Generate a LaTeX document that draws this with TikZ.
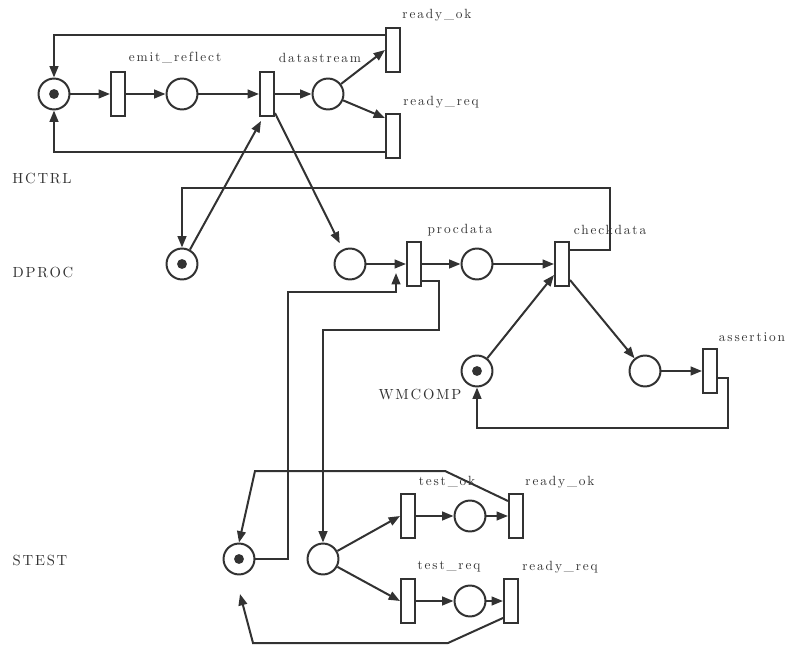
\documentclass[tikz,border=0pt]{standalone}
\usepackage{fontspec}
\usetikzlibrary{arrows.meta,calc}
\newfontfamily\capsfont{lmroman10-regular}[Extension=.otf,LetterSpace=12]
\newfontfamily\lowfont{lmroman10-regular}[Extension=.otf,LetterSpace=14,Ligatures=CommonOff]
\definecolor{ink}{RGB}{50,50,50}
\begin{document}
\begin{tikzpicture}[x=0.75pt,y=-0.75pt,line width=1.5pt,draw=ink,text=ink,
  place/.style={circle,draw=ink,minimum size=23.2pt,inner sep=0pt},
  marked/.style={place,path picture={\fill[ink] (path picture bounding box.center) circle (3.7pt);}},
  trans/.style={rectangle,draw=ink,minimum width=10.5pt,minimum height=33pt,inner sep=0pt},
  arr/.style={draw=ink,-{Triangle[length=8.5pt,width=6.5pt]}},
  caps/.style={font=\capsfont\fontsize{11}{13}\selectfont,inner sep=0pt},
  lab/.style={font=\lowfont\fontsize{10}{12}\selectfont,inner sep=0pt}
]
\useasboundingbox (0,0) rectangle (789,645);

% ---------- HCTRL ----------
\node[marked] (h1) at (54,94) {};
\node[trans] (ht1) at (118,94) {};
\node[place] (h2) at (182,94) {};
\node[trans] (ht2) at (267,94) {};
\node[place] (h3) at (328,94) {};
\node[trans] (hok) at (393,50) {};
\node[trans] (hreq) at (393,136) {};
\node[lab] (l1) at (175,58) {emit\_reflect};
\node[lab] (l2) at (320,58) {datastream};
\node[lab] (l3) at (437,15) {ready\_ok};
\node[lab] (l4) at (441,102) {ready\_req};
\node[caps] (lh) at (42,178) {HCTRL};

\draw[arr] (h1) -- (ht1);
\draw[arr] (ht1) -- (h2);
\draw[arr] (h2) -- (ht2);
\draw[arr] (ht2) -- (h3);
\draw[arr] (h3) -- (hok.west);
\draw[arr] (h3) -- ($(hreq.north west)+(0,5)$);
\draw[arr] ($(hok.north west)+(0,8)$) -| (h1.north);
\draw[arr] ($(hreq.south west)+(0,-7)$) -| (h1.south);

% ---------- DPROC ----------
\node[marked] (d1) at (182,264) {};
\node[place] (d2) at (350,264) {};
\node[trans] (dt1) at (414,264) {};
\node[place] (d3) at (477,264) {};
\node[trans] (dt2) at (562,264) {};
\node[lab] (l5) at (460,230) {procdata};
\node[lab] (l6) at (610,230) {checkdata};
\node[caps] (ld) at (43,272) {DPROC};

\draw[arr] (d1) -- ($(ht2.south west)+(2,4)$);
\draw[arr,shorten >=5pt] ($(ht2.south east)+(0,-4)$) -- (d2);
\draw[arr] (d2) -- (dt1);
\draw[arr] (dt1) -- (d3);
\draw[arr] (d3) -- (dt2);
\coordinate (dloop) at (610,188);
\draw[arr] ($(dt2.north east)+(0,9)$) -| (dloop) -| (d1.north);

% ---------- WMCOMP ----------
\node[marked] (w1) at (477,371) {};
\node[place] (w2) at (645,371) {};
\node[trans] (wt) at (710,371) {};
\node[lab] (l7) at (752,337) {assertion};
\node[caps] (lw) at (420,394) {WMCOMP};

\draw[arr] (w1) -- ($(dt2.south west)+(0,-12)$);
\draw[arr] ($(dt2.south east)+(0,-7)$) -- (w2);
\draw[arr] (w2) -- (wt);
\coordinate (wloop) at (728,428);
\draw[arr] ($(wt.south east)+(0,-16)$) -| (wloop) -| (w1.south);

% ---------- STEST ----------
\node[marked] (s1) at (239,559) {};
\node[place] (s2) at (323,559) {};
\node[trans] (st1) at (408,516) {};
\node[place] (s3) at (470,516) {};
\node[trans] (st2) at (516,516) {};
\node[trans] (st3) at (408,601) {};
\node[place] (s4) at (470,601) {};
\node[trans] (st4) at (511,601) {};
\node[lab] (l8) at (447,482) {test\_ok};
\node[lab] (l9) at (560,482) {ready\_ok};
\node[lab] (l10) at (449,567) {test\_req};
\node[lab] (l11) at (560,567) {ready\_req};
\node[caps] (ls) at (40,560) {STEST};

\draw[arr] (s2) -- (st1.west);
\draw[arr] (s2) -- (st3.west);
\draw[arr] (st1) -- (s3);
\draw[arr] (s3) -- (st2);
\draw[arr] (st3) -- (s4);
\draw[arr] (s4) -- (st4);
\coordinate (sa) at (445,471);
\coordinate (sb) at (255,471);
\draw[arr] ($(st2.north west)+(0,8)$) -- (sa) -- (sb) -- (s1.north);
\coordinate (sc) at (448,643);
\coordinate (sd) at (253,643);
\coordinate (se) at (240,594);
\draw[arr] ($(st4.south west)+(0,-6)$) -- (sc) -- (sd) -- (se);

% ---------- cross-net connections ----------
\coordinate (pinA) at (288,292);
\coordinate (pin) at (396,273);
\draw[arr] (s1.east) -| (pinA) -| (pin);
\coordinate (poutA) at (439,330);
\draw[arr] ($(dt1.south east)+(0,-6)$) -| (poutA) -| (s2.north);
\end{tikzpicture}
\end{document}
